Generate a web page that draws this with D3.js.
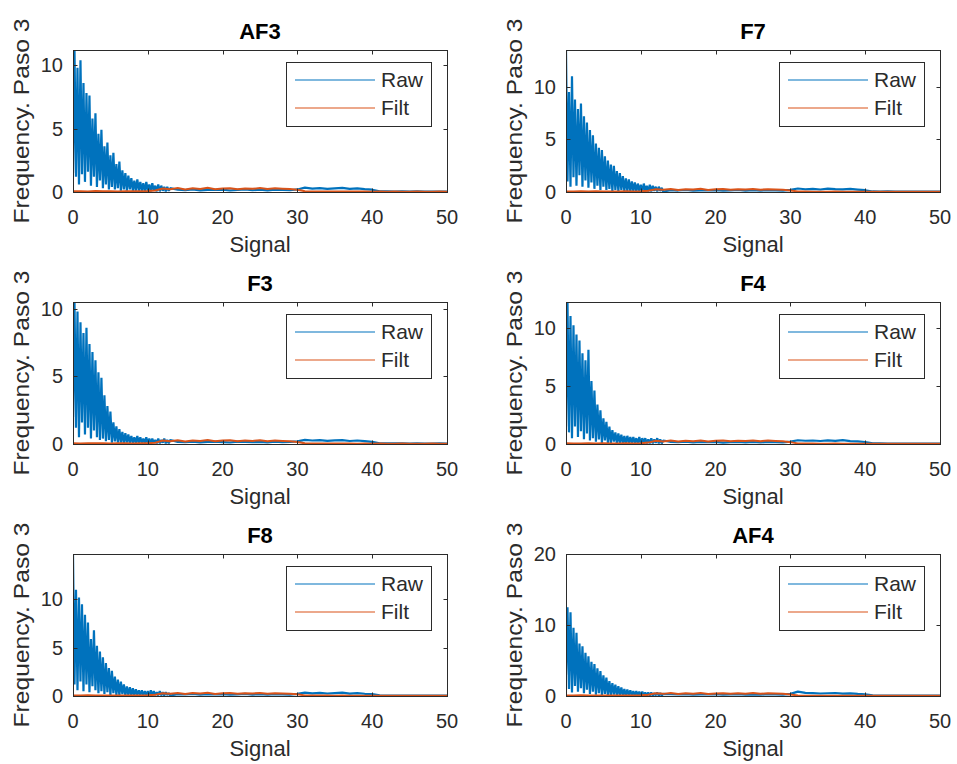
<!DOCTYPE html>
<html>
<head>
<meta charset="utf-8">
<script src="https://cdn.jsdelivr.net/npm/d3@7"></script>
<style>
  body { margin: 0; background: #fff; }
  svg { display: block; font-family: "Liberation Sans", Arial, sans-serif; }
</style>
</head>
<body>
<svg width="957" height="764"></svg>
<script>
// channel names, in subplot order (row by row)
const channels = ["AF3", "F7", "F3", "F4", "F8", "AF4"];

// Raw spectrum, 0 .. 13 Hz every 0.2 Hz (peaks / troughs)
const headStep = 0.2;
const rawAF3 = [1.5, 11.2, 1.2, 9.8, 0.6, 10.4, 1.4, 8.6, 0.8, 7.8,
                1.6, 7.6, 0.5, 5.8, 1.2, 6.2, 0.4, 4.6, 0.9, 4.9,
                0.3, 3.6, 0.6, 3.9, 0.2, 2.9, 0.4, 3.1, 0.2, 2.2,
                0.3, 2.4, 0.1, 1.7, 0.2, 1.5, 0.1, 1.3, 0.2, 1.1,
                0.1, 0.9, 0.1, 1.0, 0.1, 0.8, 0.1, 0.7, 0.05, 0.8,
                0.1, 0.6, 0.05, 0.7, 0.1, 0.5, 0.05, 0.6, 0.05, 0.5,
                0.1, 0.4, 0.05, 0.4, 0.1, 0.3];
const rawF7  = [13.5, 1.0, 9.5, 0.5, 11.0, 1.4, 8.8, 0.6, 7.9, 1.6,
                8.4, 0.5, 7.2, 1.1, 6.6, 0.4, 5.9, 0.9, 5.4, 0.3,
                4.6, 0.6, 4.2, 0.2, 4.0, 0.5, 3.4, 0.2, 3.0, 0.3,
                2.6, 0.1, 2.5, 0.2, 2.0, 0.1, 1.8, 0.2, 1.5, 0.1,
                1.3, 0.1, 1.2, 0.05, 1.0, 0.1, 0.9, 0.05, 0.8, 0.1,
                0.7, 0.05, 0.8, 0.1, 0.6, 0.05, 0.7, 0.05, 0.6, 0.1,
                0.5, 0.05, 0.5, 0.1, 0.4, 0.05];
const rawF3  = [2.0, 10.5, 1.2, 9.8, 0.5, 9.0, 1.6, 8.2, 0.7, 8.6,
                1.2, 7.4, 0.4, 6.8, 1.0, 6.2, 0.5, 5.3, 0.3, 4.9,
                0.4, 3.6, 0.2, 2.8, 0.3, 2.4, 0.1, 1.6, 0.2, 1.3,
                0.1, 1.1, 0.1, 0.9, 0.05, 0.8, 0.1, 0.7, 0.05, 0.6,
                0.1, 0.5, 0.05, 0.6, 0.05, 0.5, 0.1, 0.4, 0.05, 0.5,
                0.05, 0.4, 0.05, 0.4, 0.1, 0.3, 0.05, 0.4, 0.05, 0.3,
                0.1, 0.4, 0.05, 0.3, 0.05, 0.3];
const rawF4  = [1.5, 12.2, 1.0, 11.0, 0.5, 10.2, 1.5, 9.4, 0.6, 8.9,
                1.1, 7.8, 0.4, 7.2, 0.9, 8.1, 0.3, 5.4, 0.5, 4.6,
                0.2, 3.4, 0.4, 2.9, 0.1, 2.2, 0.3, 1.9, 0.1, 1.5,
                0.1, 1.2, 0.2, 1.0, 0.05, 0.9, 0.1, 0.8, 0.05, 0.7,
                0.05, 0.7, 0.1, 0.6, 0.05, 0.6, 0.1, 0.5, 0.05, 0.6,
                0.05, 0.5, 0.1, 0.5, 0.05, 0.4, 0.05, 0.5, 0.05, 0.4,
                0.1, 0.5, 0.05, 0.4, 0.05, 0.3];
const rawF8  = [14.7, 1.2, 11.0, 0.6, 10.2, 1.5, 9.5, 0.5, 8.4, 1.2,
                7.6, 0.4, 5.9, 1.0, 6.8, 0.6, 5.2, 0.3, 4.6, 0.5,
                4.0, 0.2, 3.4, 0.4, 2.9, 0.1, 2.6, 0.3, 2.0, 0.1,
                1.7, 0.1, 1.5, 0.2, 1.2, 0.05, 1.0, 0.1, 0.9, 0.05,
                0.8, 0.05, 0.7, 0.1, 0.6, 0.05, 0.6, 0.05, 0.5, 0.1,
                0.5, 0.05, 0.6, 0.05, 0.5, 0.1, 0.4, 0.05, 0.5, 0.05,
                0.4, 0.05, 0.4, 0.1, 0.3, 0.05];
const rawAF4 = [3.0, 12.5, 1.0, 11.8, 0.5, 9.6, 1.4, 8.9, 0.6, 7.4,
                1.1, 7.0, 0.4, 6.1, 0.9, 5.6, 0.3, 4.8, 0.6, 4.5,
                0.2, 3.9, 0.4, 3.5, 0.1, 2.9, 0.3, 2.6, 0.1, 2.1,
                0.1, 1.8, 0.2, 1.6, 0.05, 1.4, 0.1, 1.2, 0.05, 1.0,
                0.05, 0.9, 0.1, 0.8, 0.05, 0.7, 0.1, 0.7, 0.05, 0.6,
                0.05, 0.6, 0.1, 0.5, 0.05, 0.5, 0.05, 0.5, 0.05, 0.4,
                0.1, 0.5, 0.05, 0.4, 0.05, 0.3];

// Raw spectrum, 14 .. 50 Hz every 1 Hz
const tailStart = 14;
const tailAF3 = [0.18, 0.15, 0.20, 0.13, 0.17, 0.16, 0.19, 0.12, 0.17, 0.20, 0.14, 0.18, 0.13, 0.19, 0.16, 0.14, 0.20,
                 0.34, 0.27, 0.31, 0.25, 0.29, 0.33, 0.24, 0.28, 0.22, 0.18,
                 0.06, 0.05, 0.04, 0.05, 0.04, 0.05, 0.03, 0.04, 0.03, 0.04];
const tailF7  = [0.17, 0.14, 0.19, 0.12, 0.16, 0.15, 0.18, 0.13, 0.16, 0.19, 0.13, 0.17, 0.14, 0.18, 0.15, 0.13, 0.21,
                 0.33, 0.26, 0.30, 0.24, 0.32, 0.27, 0.25, 0.29, 0.23, 0.17,
                 0.05, 0.04, 0.05, 0.04, 0.03, 0.04, 0.03, 0.04, 0.03, 0.03];
const tailF3  = [0.16, 0.13, 0.18, 0.12, 0.15, 0.17, 0.14, 0.11, 0.18, 0.15, 0.13, 0.16, 0.12, 0.17, 0.14, 0.15, 0.19,
                 0.30, 0.26, 0.28, 0.23, 0.27, 0.29, 0.22, 0.26, 0.21, 0.16,
                 0.05, 0.04, 0.04, 0.05, 0.03, 0.04, 0.03, 0.03, 0.04, 0.03];
const tailF4  = [0.18, 0.15, 0.20, 0.13, 0.17, 0.15, 0.19, 0.12, 0.16, 0.18, 0.14, 0.17, 0.13, 0.19, 0.16, 0.14, 0.21,
                 0.32, 0.28, 0.30, 0.26, 0.31, 0.27, 0.33, 0.25, 0.22, 0.17,
                 0.05, 0.05, 0.04, 0.04, 0.03, 0.04, 0.03, 0.04, 0.03, 0.03];
const tailF8  = [0.19, 0.16, 0.21, 0.14, 0.18, 0.17, 0.20, 0.13, 0.17, 0.21, 0.15, 0.18, 0.14, 0.20, 0.17, 0.15, 0.22,
                 0.35, 0.28, 0.32, 0.26, 0.30, 0.34, 0.25, 0.29, 0.23, 0.19,
                 0.06, 0.05, 0.05, 0.04, 0.04, 0.05, 0.03, 0.04, 0.03, 0.04];
const tailAF4 = [0.25, 0.21, 0.27, 0.19, 0.24, 0.22, 0.26, 0.18, 0.23, 0.26, 0.20, 0.24, 0.19, 0.25, 0.22, 0.20, 0.30,
                 0.62, 0.45, 0.40, 0.35, 0.39, 0.42, 0.33, 0.37, 0.30, 0.24,
                 0.08, 0.06, 0.06, 0.05, 0.05, 0.06, 0.04, 0.05, 0.04, 0.05];

// Filtered spectrum, 0 .. 50 Hz every 1 Hz
const filtAF3 = [0.05, 0.06, 0.04, 0.07, 0.05, 0.06, 0.04, 0.05, 0.06, 0.05, 0.07, 0.12,
                 0.28, 0.22, 0.31, 0.20, 0.29, 0.24, 0.33, 0.21, 0.27, 0.30, 0.22, 0.28, 0.25, 0.32, 0.23, 0.29, 0.26, 0.24, 0.18,
                 0.06, 0.04, 0.03, 0.04, 0.03, 0.03, 0.04, 0.03, 0.03, 0.02, 0.03, 0.02, 0.03, 0.02, 0.02, 0.03, 0.02, 0.02, 0.03, 0.02];
const filtF7  = [0.05, 0.05, 0.06, 0.04, 0.06, 0.05, 0.05, 0.04, 0.06, 0.05, 0.06, 0.11,
                 0.26, 0.21, 0.29, 0.19, 0.27, 0.23, 0.30, 0.20, 0.26, 0.28, 0.21, 0.27, 0.24, 0.29, 0.22, 0.27, 0.24, 0.21, 0.15,
                 0.05, 0.04, 0.03, 0.03, 0.03, 0.04, 0.03, 0.03, 0.02, 0.03, 0.02, 0.03, 0.02, 0.02, 0.03, 0.02, 0.02, 0.02, 0.02, 0.02];
const filtF3  = [0.05, 0.04, 0.06, 0.05, 0.05, 0.04, 0.06, 0.05, 0.04, 0.06, 0.05, 0.10,
                 0.25, 0.20, 0.28, 0.19, 0.26, 0.22, 0.29, 0.20, 0.25, 0.27, 0.21, 0.26, 0.23, 0.28, 0.21, 0.26, 0.23, 0.20, 0.14,
                 0.05, 0.04, 0.03, 0.04, 0.03, 0.03, 0.03, 0.02, 0.03, 0.02, 0.03, 0.02, 0.02, 0.03, 0.02, 0.02, 0.02, 0.03, 0.02, 0.02];
const filtF4  = [0.06, 0.05, 0.05, 0.06, 0.04, 0.06, 0.05, 0.05, 0.06, 0.04, 0.06, 0.12,
                 0.27, 0.22, 0.30, 0.21, 0.28, 0.24, 0.31, 0.22, 0.27, 0.29, 0.23, 0.28, 0.25, 0.31, 0.24, 0.30, 0.26, 0.23, 0.16,
                 0.05, 0.04, 0.04, 0.03, 0.03, 0.04, 0.03, 0.03, 0.03, 0.02, 0.03, 0.02, 0.03, 0.02, 0.02, 0.03, 0.02, 0.02, 0.02, 0.02];
const filtF8  = [0.06, 0.05, 0.07, 0.05, 0.06, 0.05, 0.06, 0.04, 0.06, 0.05, 0.07, 0.13,
                 0.29, 0.23, 0.32, 0.21, 0.30, 0.25, 0.33, 0.22, 0.28, 0.31, 0.23, 0.29, 0.26, 0.32, 0.24, 0.29, 0.27, 0.24, 0.18,
                 0.06, 0.05, 0.04, 0.04, 0.03, 0.04, 0.03, 0.03, 0.03, 0.02, 0.03, 0.02, 0.03, 0.02, 0.02, 0.03, 0.02, 0.02, 0.03, 0.02];
const filtAF4 = [0.08, 0.07, 0.09, 0.06, 0.08, 0.07, 0.08, 0.06, 0.08, 0.07, 0.09, 0.17,
                 0.38, 0.30, 0.42, 0.28, 0.39, 0.32, 0.43, 0.29, 0.36, 0.40, 0.31, 0.37, 0.33, 0.41, 0.31, 0.38, 0.34, 0.31, 0.22,
                 0.07, 0.05, 0.05, 0.04, 0.04, 0.05, 0.04, 0.04, 0.03, 0.03, 0.04, 0.03, 0.03, 0.03, 0.03, 0.04, 0.03, 0.03, 0.03, 0.03];

const rawHeads = [rawAF3, rawF7, rawF3, rawF4, rawF8, rawAF4];
const rawTails = [tailAF3, tailF7, tailF3, tailF4, tailF8, tailAF4];
const filts    = [filtAF3, filtF7, filtF3, filtF4, filtF8, filtAF4];

// axis limits and ticks as shown in each subplot
const xDomain = [0, 50];
const xTicks = [0, 10, 20, 30, 40, 50];
const yLimits = [11.2, 13.5, 10.5, 12.2, 14.7, 20];
const yTicks = [[0, 5, 10], [0, 5, 10], [0, 5, 10], [0, 5, 10], [0, 5, 10], [0, 10, 20]];
const seriesNames = ["Raw", "Filt"];
const colors = ["#0072BD", "#D95319"];

const svg = d3.select("svg");
const colX = [73, 566];
const rowY = [50, 302, 554];
const plotW = 374, plotH = 142;
const ink = "#2b2b2b";

channels.forEach(function(name, k) {
  const left = colX[k % 2], top = rowY[Math.floor(k / 2)];
  const x = d3.scaleLinear().domain(xDomain).range([0, plotW]);
  const y = d3.scaleLinear().domain([0, yLimits[k]]).range([plotH, 0]);

  const g = svg.append("g").attr("transform", `translate(${left},${top})`);

  g.append("clipPath").attr("id", "clip" + k)
    .append("rect").attr("width", plotW).attr("height", plotH);

  const rawPts = rawHeads[k].map((v, i) => [i * headStep, v])
    .concat(rawTails[k].map((v, i) => [tailStart + i, v]));
  const filtPts = filts[k].map((v, i) => [i, v]);

  const line = d3.line().x(d => x(d[0])).y(d => y(d[1]));

  const plot = g.append("g").attr("clip-path", `url(#clip${k})`);
  plot.append("path").datum(rawPts)
    .attr("d", line).attr("fill", "none")
    .attr("stroke", colors[0]).attr("stroke-width", 2.2)
    .attr("stroke-linejoin", "bevel");
  plot.append("path").datum(filtPts)
    .attr("d", line).attr("fill", "none")
    .attr("stroke", colors[1]).attr("stroke-width", 2);

  // box
  g.append("rect").attr("x", 0.5).attr("y", 0.5)
    .attr("width", plotW).attr("height", plotH)
    .attr("fill", "none").attr("stroke", ink).attr("stroke-width", 1);

  // ticks pointing in, on all four sides
  const tl = 4;
  xTicks.forEach(function(t) {
    const px = Math.round(x(t)) + 0.5;
    g.append("line").attr("x1", px).attr("x2", px).attr("y1", plotH + 0.5).attr("y2", plotH + 0.5 - tl).attr("stroke", ink);
    g.append("line").attr("x1", px).attr("x2", px).attr("y1", 0.5).attr("y2", 0.5 + tl).attr("stroke", ink);
    g.append("text").attr("x", x(t)).attr("y", plotH + 32)
      .attr("text-anchor", "middle").attr("font-size", 20).attr("fill", ink).text(t);
  });
  yTicks[k].forEach(function(t) {
    const py = Math.round(y(t)) + 0.5;
    g.append("line").attr("x1", 0.5).attr("x2", 0.5 + tl).attr("y1", py).attr("y2", py).attr("stroke", ink);
    g.append("line").attr("x1", plotW + 0.5).attr("x2", plotW + 0.5 - tl).attr("y1", py).attr("y2", py).attr("stroke", ink);
    g.append("text").attr("x", -10).attr("y", y(t) + 7)
      .attr("text-anchor", "end").attr("font-size", 20).attr("fill", ink).text(t);
  });

  // title and axis labels
  g.append("text").attr("x", plotW / 2).attr("y", -11)
    .attr("text-anchor", "middle").attr("font-size", 22).attr("font-weight", "bold")
    .attr("fill", "#000").text(name);
  g.append("text").attr("x", plotW / 2).attr("y", plotH + 60)
    .attr("text-anchor", "middle").attr("font-size", 22).attr("fill", ink).text("Signal");
  g.append("text")
    .attr("transform", `translate(-44,${plotH / 2}) rotate(-90) scale(1.12,1)`)
    .attr("text-anchor", "middle").attr("font-size", 22).attr("fill", ink)
    .text("Frequency. Paso 3");

  // legend
  const lg = g.append("g").attr("transform", `translate(${plotW - 161},12)`);
  lg.append("rect").attr("x", 0.5).attr("y", 0.5).attr("width", 145).attr("height", 64)
    .attr("fill", "#fff").attr("stroke", ink).attr("stroke-width", 1);
  seriesNames.forEach(function(s, j) {
    const ly = 18 + j * 28;
    lg.append("line").attr("x1", 9).attr("x2", 89).attr("y1", ly).attr("y2", ly)
      .attr("stroke", colors[j]).attr("stroke-width", 1.2);
    lg.append("text").attr("x", 95).attr("y", ly + 7)
      .attr("font-size", 21).attr("fill", ink).text(s);
  });
});
</script>
</body>
</html>
